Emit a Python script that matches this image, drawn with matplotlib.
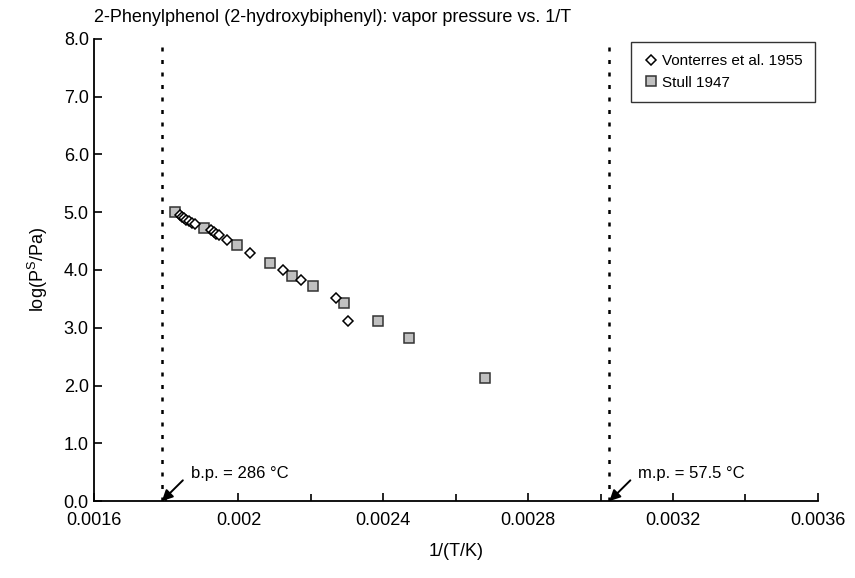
"""
2-Phenylphenol vapor pressure vs. 1/T (Vonterres 1955, Stull 1947) with b.p. / m.p. markers.
"""
import numpy as np
import matplotlib
matplotlib.use("Agg")
import matplotlib.pyplot as plt
from matplotlib.ticker import FuncFormatter, MultipleLocator

plt.rcParams["font.family"] = ["Liberation Sans", "DejaVu Sans"]

# Vonterres et al. 1955
vont_x = [0.001838, 0.001844, 0.001850, 0.001856, 0.001863, 0.001872, 0.001879,
          0.001925, 0.001933, 0.001939, 0.001946, 0.001967, 0.002031, 0.002124,
          0.002172, 0.002269, 0.002303]
vont_y = [4.95, 4.92, 4.89, 4.86, 4.84, 4.82, 4.79, 4.69, 4.66, 4.63, 4.60, 4.52,
          4.30, 4.00, 3.83, 3.52, 3.12]

# Stull 1947: 1/(T/K) and log(P/Pa)
stull_x = [0.0018243, 0.0019050, 0.0019958, 0.0020875, 0.0021489, 0.0022053,
           0.0022912, 0.0023846, 0.0024707, 0.0026799]
stull_y = [5.006, 4.727, 4.426, 4.125, 3.903, 3.727, 3.426, 3.125, 2.824, 2.125]

bp_x = 1 / (286 + 273.15)
mp_x = 1 / (57.5 + 273.15)
xticks = [0.0016, 0.002, 0.0024, 0.0028, 0.0032, 0.0036]

fig = plt.figure(figsize=(8.55, 5.78), dpi=100)
ax = fig.add_axes([0.1095, 0.133, 0.847, 0.800])

dots = (0, (1.6, 3.4))
ax.axvline(bp_x, color="black", lw=1.8, linestyle=dots, zorder=1)
ax.axvline(mp_x, color="black", lw=1.8, linestyle=dots, zorder=1)

ax.plot(vont_x, vont_y, linestyle="none", marker="D", ms=5.5, mfc="white",
        mec="black", mew=1.1, label="Vonterres et al. 1955", zorder=3)
ax.plot(stull_x, stull_y, linestyle="none", marker="s", ms=7, mfc="#c0c0c0",
        mec="#333333", mew=1.1, label="Stull 1947", zorder=2)

# b.p. / m.p. arrows and labels
arrow = dict(arrowstyle="-|>", color="black", lw=1.4, mutation_scale=16,
             shrinkA=0, shrinkB=0)
for xv, txt in [(bp_x, "b.p. = 286 °C"), (mp_x, "m.p. = 57.5 °C")]:
    ax.annotate("", xy=(xv, 0), xytext=(xv + 0.000058, 0.36), arrowprops=arrow)
    ax.text(xv + 0.000080, 0.47, txt, fontsize=12, va="center", ha="left")

ax.set_xlim(0.0016, 0.0036)
ax.set_ylim(0, 8)
ax.set_xticks(xticks)
ax.xaxis.set_major_formatter(FuncFormatter(lambda v, p: f"{v:g}"))
ax.xaxis.set_minor_locator(MultipleLocator(0.0002))
ax.set_yticks(np.arange(0, 8.1, 1.0))
ax.yaxis.set_major_formatter(FuncFormatter(lambda v, p: f"{v:.1f}"))
ax.tick_params(axis="both", which="both", direction="in", labelsize=13,
               width=1.2, color="black")
ax.tick_params(axis="both", which="major", length=6)
ax.tick_params(axis="x", which="minor", length=5)
ax.tick_params(axis="x", pad=8)
for s in ["top", "right"]:
    ax.spines[s].set_visible(False)
for s in ["left", "bottom"]:
    ax.spines[s].set_linewidth(1.3)

ax.set_xlabel("1/(T/K)", fontsize=13, labelpad=10)
ax.set_ylabel("log(P$^{\\mathregular{S}}$/Pa)", fontsize=13, labelpad=10)
ax.set_title("2-Phenylphenol (2-hydroxybiphenyl): vapor pressure vs. 1/T",
             loc="left", fontsize=13, pad=12)

leg = ax.legend(loc="upper right", fontsize=11, frameon=True, fancybox=False,
                borderaxespad=0.2, handletextpad=0.2, handlelength=1.0,
                borderpad=0.8, labelspacing=0.5)
leg.get_frame().set_edgecolor("black")
leg.get_frame().set_linewidth(1.0)

fig.savefig("out.png", dpi=100)
